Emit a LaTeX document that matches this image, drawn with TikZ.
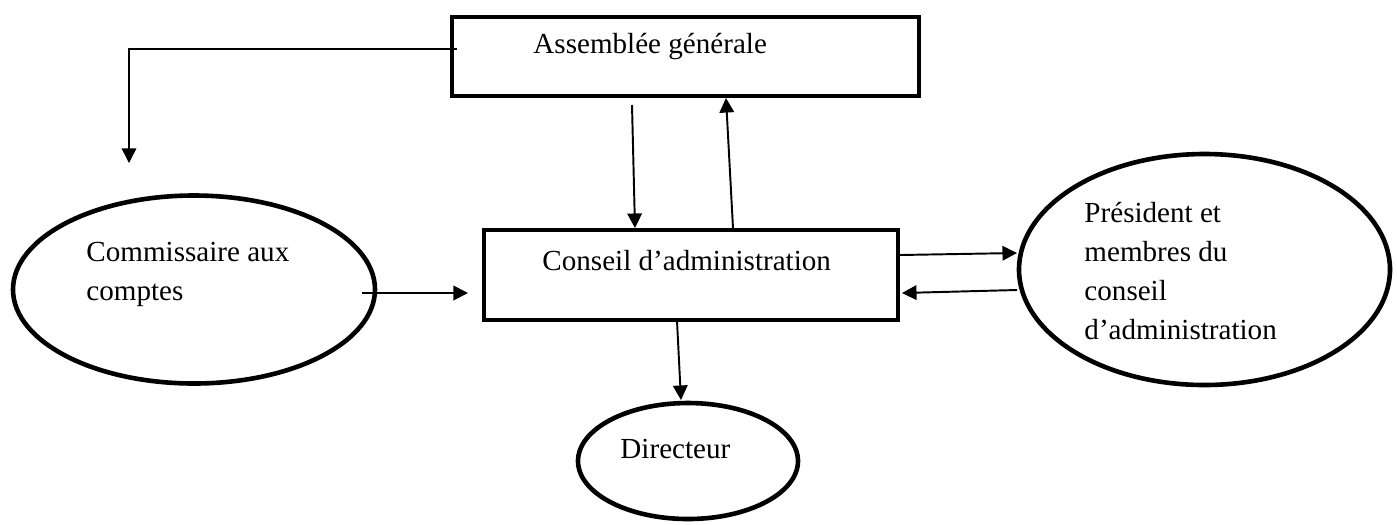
\documentclass[tikz,border=0pt]{standalone}
\usepackage{fontspec}
\setmainfont{Liberation Serif}
\usetikzlibrary{shapes.geometric, arrows.meta, calc}

\newdimen\pxu
\pxu=0.4125pt

\begin{document}
\begin{tikzpicture}[x=0.4125pt, y=-0.4125pt]
    \tikzset{
        box/.style={draw, rectangle, line width=1.9pt, outer sep=0pt, inner sep=0pt},
        oval/.style={draw, ellipse, line width=1.9pt, outer sep=0pt, inner sep=0pt},
        lbl/.style={inner sep=0pt, align=left, font=\fontsize{12}{16}\selectfont},
        link/.style={line width=0.8pt, -{Triangle[width=6pt, length=6pt]}}
    }
    \useasboundingbox (0,0) rectangle (1397,524);
    % shapes
    \node[box, minimum width=467\pxu, minimum height=79\pxu] (ag) at (685.5,56.5) {};
    \node[box, minimum width=414\pxu, minimum height=90\pxu] (ca) at (691,275) {};
    \node[oval, minimum width=362\pxu, minimum height=188\pxu] (cac) at (194,289.5) {};
    \node[oval, minimum width=371\pxu, minimum height=231\pxu] (pres) at (1204.5,269.5) {};
    \node[oval, minimum width=220\pxu, minimum height=116\pxu] (dir) at (688,461) {};
    % texts (base = last line)
    \node[lbl, anchor=base west] (agtext) at (533,53) {Assemblée générale};
    \node[lbl, anchor=base west] (catext) at (542,270) {Conseil d’administration};
    \node[lbl, anchor=base west] (cactext) at (86,300) {Commissaire aux\\comptes};
    \node[lbl, anchor=base west] (prestext) at (1084,339) {Président et\\membres du\\conseil\\d’administration};
    \node[lbl, anchor=base west] (dirtext) at (620,458) {Directeur};
    % links
    \coordinate (cacin) at (129,163);
    \draw[link, line width=0.6pt] ($(ag.north west)+(5,32)$) -| (cacin);
    \draw[link] ($(ag.south west)+(180,9)$) -- ($(ca.north west)+(151,-2)$);
    \draw[link] ($(ca.north west)+(249,-2)$) -- ($(ag.south west)+(274,2)$);
    \draw[link] ($(cac.center)+(168,3.5)$) -- ($(ca.north west)+(-16,63)$);
    \draw[link] ($(ca.north east)+(2,25)$) -- ($(pres.west)+(-2,-16.5)$);
    \draw[link] ($(pres.west)+(-2,20.5)$) -- ($(ca.north east)+(4,63)$);
    \draw[link] ($(ca.south west)+(193,1)$) -- ($(dir.north)+(-7,-3)$);
\end{tikzpicture}
\end{document}
